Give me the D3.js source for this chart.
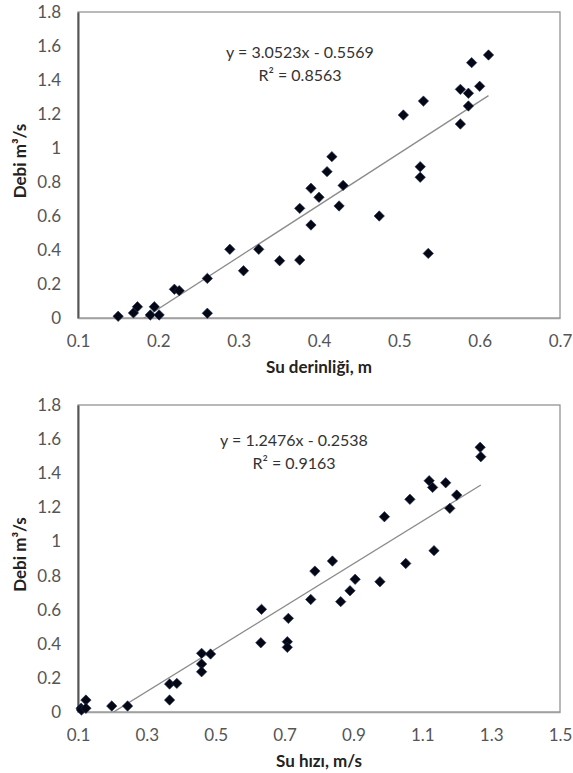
<!DOCTYPE html>
<html><head><meta charset="utf-8">
<script src="https://cdn.jsdelivr.net/npm/d3@7/dist/d3.min.js"></script>
<style>
html,body{margin:0;padding:0;background:#fff;}
svg{display:block;font-family:Lato,"Open Sans",sans-serif;}
</style></head>
<body><svg id="c" width="573" height="773"></svg>
<script>
// ---- Data: chart 1 (water depth vs discharge)
const depth = [0.150,0.169,0.174,0.190,0.195,0.201,0.220,0.226,0.261,0.261,0.289,0.306,0.325,0.351,0.376,0.376,0.390,0.390,0.400,0.410,0.425,0.430,0.475,0.526,0.536,0.416,0.505,0.530,0.526,0.576,0.576,0.586,0.586,0.590,0.600,0.611];
const depthQ = [0.010,0.030,0.066,0.018,0.066,0.018,0.169,0.161,0.233,0.028,0.404,0.278,0.404,0.337,0.341,0.645,0.763,0.547,0.710,0.861,0.659,0.780,0.600,0.828,0.380,0.949,1.194,1.276,0.890,1.141,1.345,1.322,1.247,1.502,1.363,1.547];
// ---- Data: chart 2 (water velocity vs discharge)
const velocity = [0.109,0.110,0.123,0.123,0.198,0.244,0.366,0.366,0.387,0.459,0.459,0.459,0.485,0.633,0.631,0.711,0.708,0.708,0.776,0.788,0.863,0.890,0.905,0.977,0.839,0.990,1.052,1.064,1.120,1.130,1.134,1.168,1.180,1.200,1.268,1.270];
const velocityQ = [0.022,0.012,0.070,0.022,0.035,0.035,0.070,0.164,0.168,0.344,0.281,0.236,0.340,0.602,0.406,0.549,0.412,0.379,0.660,0.826,0.647,0.711,0.778,0.764,0.885,1.145,0.871,1.247,1.356,1.317,0.946,1.344,1.194,1.272,1.552,1.497];
// ---- Axis ticks & labels
const yTicks = [0,0.2,0.4,0.6,0.8,1,1.2,1.4,1.6,1.8];
const xTicks1 = [0.1,0.2,0.3,0.4,0.5,0.6,0.7];
const xTicks2 = [0.1,0.3,0.5,0.7,0.9,1.1,1.3,1.5];
const yTitle = "Debi m³/s";
const xTitle1 = "Su derinliği, m";
const xTitle2 = "Su hızı, m/s";
const fit1 = {slope:3.0523, intercept:-0.5569, r2:"0.8563", eq:"y = 3.0523x - 0.5569"};
const fit2 = {slope:1.2476, intercept:-0.2538, r2:"0.9163", eq:"y = 1.2476x - 0.2538"};

const svg = d3.select("#c");
const fmt = d => String(d);

function chart(g, cfg){
  const L=78, R=560, T=cfg.top, B=cfg.bottom;
  const x = d3.scaleLinear().domain([cfg.xTicks[0], cfg.xTicks[cfg.xTicks.length-1]]).range([L,R]);
  const y = d3.scaleLinear().domain([0,1.8]).range([B,T]);
  const id = "clip"+cfg.id;
  g.append("clipPath").attr("id",id).append("rect").attr("x",L).attr("y",T).attr("width",R-L).attr("height",B-T);
  // plot border
  g.append("rect").attr("x",L).attr("y",T).attr("width",R-L).attr("height",B-T)
    .attr("fill","none").attr("stroke","#8a8a8a").attr("stroke-width",1.2);
  // axes
  const ya = g.append("g").attr("transform",`translate(${L},0)`)
    .call(d3.axisLeft(y).tickValues(yTicks).tickSize(0).tickPadding(17).tickFormat(fmt));
  ya.select(".domain").attr("stroke","#555").attr("stroke-width",2);
  const xa = g.append("g").attr("transform",`translate(0,${B})`)
    .call(d3.axisBottom(x).tickValues(cfg.xTicks).tickSize(0).tickPadding(17).tickFormat(fmt));
  xa.select(".domain").attr("stroke","#a0a0a0").attr("stroke-width",1.5);
  g.selectAll(".tick text").attr("font-family","Lato,'Open Sans',sans-serif").attr("font-size",17).attr("fill","#555");
  // trendline
  const xs = d3.extent(cfg.xs);
  g.append("line").attr("clip-path",`url(#${id})`)
    .attr("x1",x(xs[0])).attr("y1",y(cfg.fit.slope*xs[0]+cfg.fit.intercept))
    .attr("x2",x(xs[1])).attr("y2",y(cfg.fit.slope*xs[1]+cfg.fit.intercept))
    .attr("stroke","#8c8c8c").attr("stroke-width",1.3);
  // markers
  const h=5.2;
  g.append("g").selectAll("path").data(cfg.xs.map((v,i)=>[v,cfg.ys[i]])).join("path")
    .attr("transform",d=>`translate(${x(d[0])},${y(d[1])})`)
    .attr("d",`M0,${-h}L${h},0L0,${h}L${-h},0Z`)
    .attr("fill","#050814").attr("stroke","#1b2a55").attr("stroke-width",0.6);
  // equation
  const cx = cfg.eqX;
  g.append("text").attr("x",cx).attr("y",cfg.eqY).attr("text-anchor","middle")
    .attr("font-size",16).attr("fill","#333").text(cfg.fit.eq);
  g.append("text").attr("x",cx).attr("y",cfg.eqY+23).attr("text-anchor","middle")
    .attr("font-size",16).attr("fill","#333").text("R² = "+cfg.fit.r2);
  // titles
  g.append("text").attr("transform",`translate(26,${(T+B)/2-4}) rotate(-90)`).attr("text-anchor","middle")
    .attr("font-size",17).attr("font-weight","bold").attr("fill","#222").text(yTitle);
  g.append("text").attr("x",(L+R)/2).attr("y",B+55).attr("text-anchor","middle")
    .attr("font-size",17).attr("font-weight","bold").attr("fill","#222").text(cfg.xTitle);
}

chart(svg.append("g"),{id:1,top:12,bottom:318,xTicks:xTicks1,xs:depth,ys:depthQ,fit:fit1,xTitle:xTitle1,eqX:300,eqY:58});
chart(svg.append("g"),{id:2,top:405,bottom:712,xTicks:xTicks2,xs:velocity,ys:velocityQ,fit:fit2,xTitle:xTitle2,eqX:294,eqY:446});
</script></body></html>
